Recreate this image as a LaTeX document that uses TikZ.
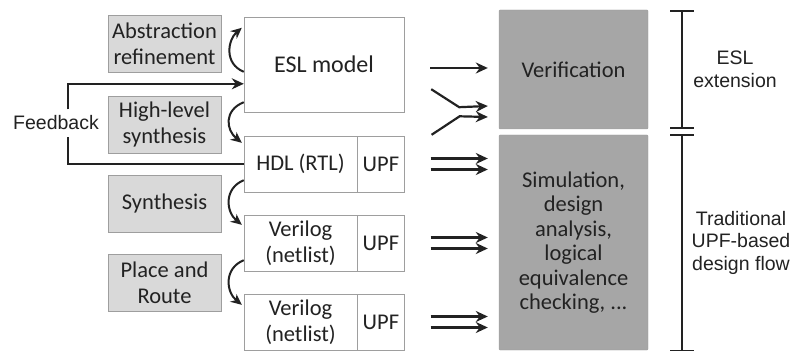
\documentclass[tikz,border=0pt]{standalone}
\usepackage{fontspec}
\setmainfont{Carlito}
\setsansfont{Liberation Sans}
\usetikzlibrary{positioning, arrows.meta, calc}
\definecolor{boxgray}{HTML}{D9D9D9}
\definecolor{darkbox}{HTML}{A6A6A6}
\definecolor{edgegray}{HTML}{9E9E9E}
\definecolor{ink}{HTML}{222222}

\begin{document}
\begin{tikzpicture}[x=1pt, y=-1pt,
  every node/.style={text=ink},
  gbox/.style={draw=edgegray, fill=boxgray, minimum width=113pt, minimum height=57pt,
               align=center, inner sep=0pt, font=\fontsize{22.5}{26}\selectfont},
  wbox/.style={draw=edgegray, fill=white, minimum height=56pt,
               align=center, inner sep=0pt, font=\fontsize{22.5}{26}\selectfont},
  dbox/.style={draw=edgegray, fill=darkbox, minimum width=149pt, rounded corners=1pt,
               align=center, inner sep=0pt, font=\fontsize{22.5}{24.5}\selectfont},
  side/.style={align=center, inner sep=0pt, font=\sffamily\fontsize{19.5}{22.5}\selectfont},
  ar/.style={-{Stealth[length=12pt,width=11pt]}, line width=2.2pt, draw=ink},
  bendar/.style={-{Stealth[length=11pt,width=10pt]}, line width=2pt, draw=ink},
  brk/.style={line width=1.2pt, draw=ink},
]
\useasboundingbox (0,0) rectangle (791,352);

% tool steps
\node[gbox] (abs) at (164.5,44) {Abstraction\\refinement};
\node[gbox] (hls) at (164.5,124.5) {High-level\\synthesis};
\node[gbox] (syn) at (164.5,203.5) {Synthesis};
\node[gbox] (par) at (164.5,283) {Place and\\Route};

% design views
\node[wbox, minimum width=160pt, minimum height=95pt, font=\fontsize{24}{28}\selectfont] (esl) at (324,64.5) {ESL model};
\node[wbox, minimum width=113pt] (hdl) at (300.5,164) {HDL (RTL)};
\node[wbox, minimum width=47pt, right=0pt of hdl] (upfa) {UPF};
\node[wbox, minimum width=113pt] (net1) at (300.5,243) {Verilog\\(netlist)};
\node[wbox, minimum width=47pt, right=0pt of net1] (upfb) {UPF};
\node[wbox, minimum width=113pt] (net2) at (300.5,322) {Verilog\\(netlist)};
\node[wbox, minimum width=47pt, right=0pt of net2] (upfc) {UPF};

% checks
\node[dbox, minimum height=119pt] (ver) at (573.5,69.5) {Verification};
\node[dbox, minimum height=215pt] (sim) at (573.5,242.5)
  {Simulation,\\design\\analysis,\\logical\\equivalence\\checking, ...};

% feedback loop
\node[side, minimum height=27pt] (fb) at (56,123) {Feedback};
\coordinate (fbin) at ($(esl.north west)+(0,67)$);
\draw[ar, -] (hdl.west) -| ($(fb.south)+(12,0)$);
\draw[ar] ($(fb.north)+(12,0)$) |- (fbin);

% refinement steps
\draw[bendar] ($(esl.north west)+(0,55)$) .. controls +(-20,-8) and +(-14,12) .. ($(esl.north west)+(-2,11)$);
\draw[bendar] ($(esl.south west)+(0,-10)$) .. controls +(-20,8) and +(-16,-13) .. ($(hdl.north west)+(-2,7)$);
\draw[bendar] ($(hdl.south west)+(0,-12)$) .. controls +(-20,8) and +(-16,-13) .. ($(net1.north west)+(-2,10)$);
\draw[bendar] ($(net1.south west)+(0,-11)$) .. controls +(-20,8) and +(-16,-13) .. ($(net2.north west)+(-2,11)$);

% into verification
\draw[ar] ($(esl.east)+(26,3.5)$) -- ($(ver.west)+(-11,-1.5)$);
\draw[ar] ($(esl.south east)+(27,-23)$) -- ++(28,18) -- ($(ver.west)+(-11,36.5)$);
\draw[ar] ($(upfa.north east)+(27,-1)$) -- ++(28,-18.5) -- ($(ver.west)+(-11,47.5)$);
\foreach \u in {upfa,upfb,upfc}{
  \draw[ar] ($(\u.east)+(26,-5.5)$) -- ($(sim.west |- \u.east)+(-11,-5.5)$);
  \draw[ar] ($(\u.east)+(26,5.5)$) -- ($(sim.west |- \u.east)+(-11,5.5)$);
}

% phase bracket
\draw[brk] (670,11) -- (694,11) (682,11) -- (682,128) (670,128) -- (694,128)
           (670,135) -- (694,135) (682,135) -- (682,350.5) (670,350.5) -- (694,350.5);
\node[side] (eslx) at (735,69.5) {ESL\\extension};
\node[side] (trad) at (741,242.5) {Traditional\\UPF-based\\design flow};
\end{tikzpicture}
\end{document}
